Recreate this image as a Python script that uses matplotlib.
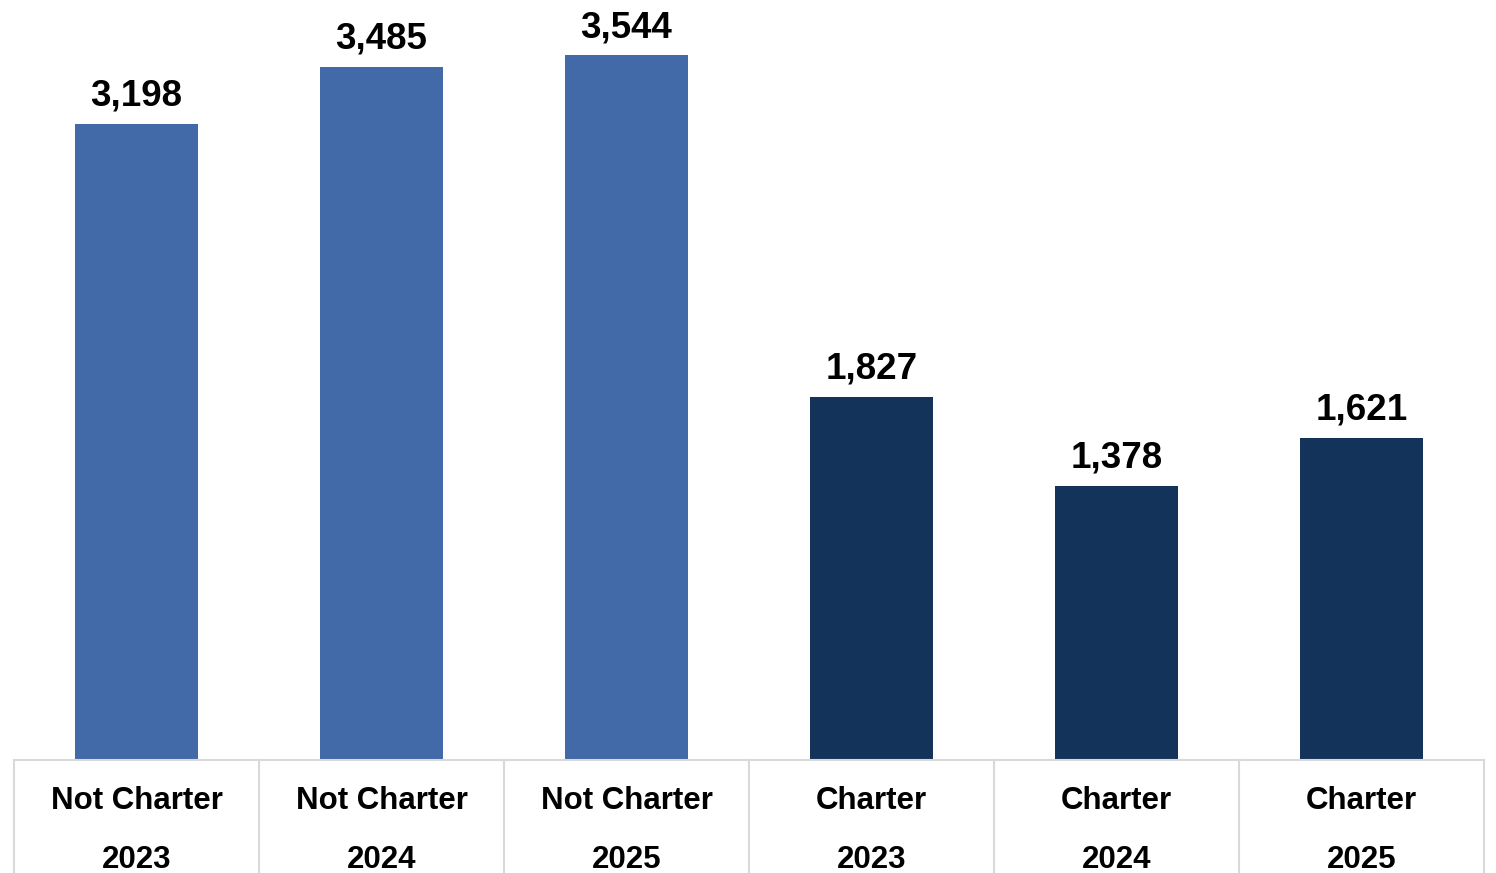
import matplotlib.pyplot as plt
import matplotlib.transforms as mtransforms

groups = ["Not Charter", "Not Charter", "Not Charter", "Charter", "Charter", "Charter"]
years = ["2023", "2024", "2025", "2023", "2024", "2025"]
counts = [3198, 3485, 3544, 1827, 1378, 1621]
colors = ["#426AA8", "#426AA8", "#426AA8", "#13335A", "#13335A", "#13335A"]

plt.rcParams['font.family'] = ['Liberation Sans', 'DejaVu Sans']

fig = plt.figure(figsize=(14.96, 8.73), dpi=100)
ax = fig.add_axes([14 / 1496, 113 / 873, 1470 / 1496, 760 / 873])

x = list(range(len(counts)))
ax.bar(x, counts, width=0.5, color=colors)
ax.set_xlim(-0.5, len(counts) - 0.5)
ax.set_ylim(0, 3821)

for i, v in enumerate(counts):
    ax.annotate(f"{v:,}", (i, v), xytext=(0, 13), textcoords='offset points',
                ha='center', va='baseline', fontsize=26.5, fontweight='bold')

# category table under the bars
trans = mtransforms.blended_transform_factory(ax.transData, ax.transAxes)
line_kw = dict(color='#d9d9d9', lw=1.5, transform=trans, clip_on=False)
ax.plot([-0.5, len(counts) - 0.5], [0, 0], **line_kw)
for b in range(len(counts) + 1):
    ax.plot([b - 0.5, b - 0.5], [0, -0.16], **line_kw)
for i, (g, y) in enumerate(zip(groups, years)):
    ax.text(i, -0.0645, g, transform=trans, ha='center', va='baseline',
            fontsize=22.5, fontweight='bold')
    ax.text(i, -0.142, y, transform=trans, ha='center', va='baseline',
            fontsize=22.5, fontweight='bold')

ax.set_xticks([])
ax.set_yticks([])
for s in ax.spines.values():
    s.set_visible(False)

fig.savefig("out.png", dpi=100)
